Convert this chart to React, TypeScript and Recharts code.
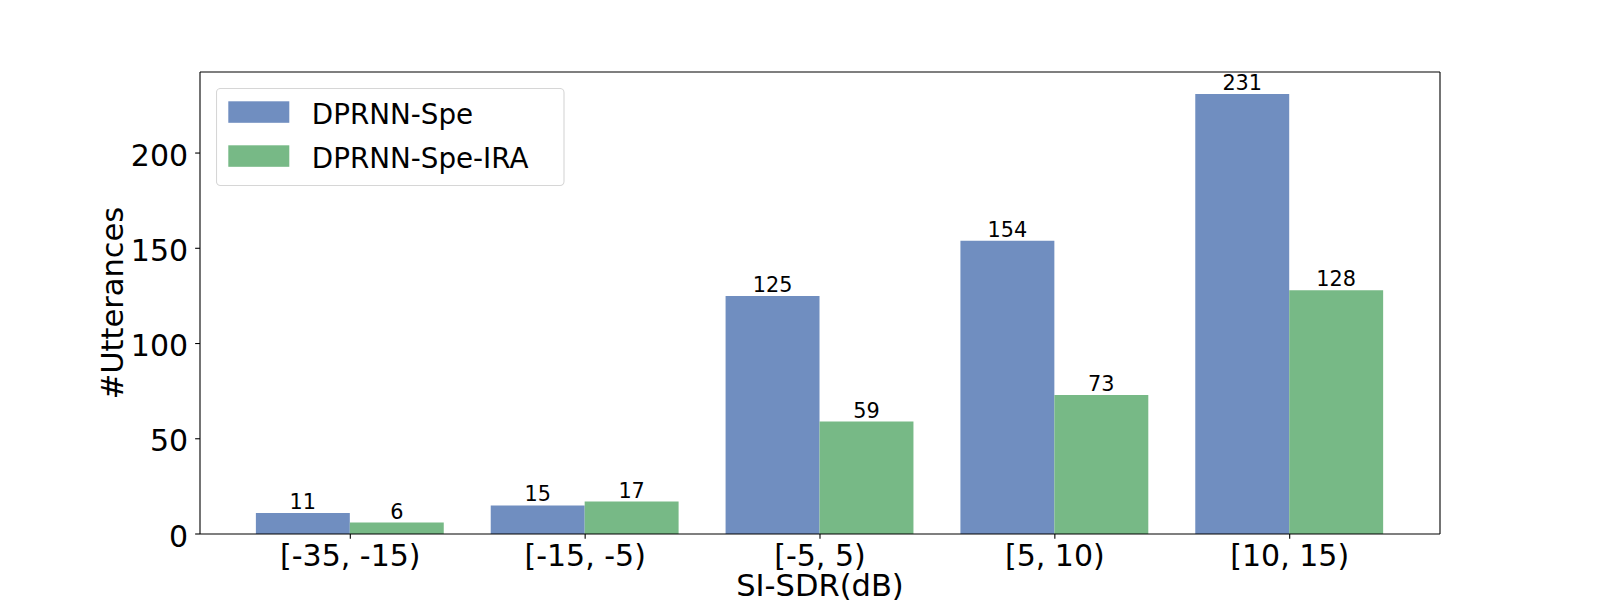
import React from 'react';
import { BarChart, Bar, XAxis, YAxis, Legend, LabelList } from 'recharts';

const categories = ['[-35, -15)', '[-15, -5)', '[-5, 5)', '[5, 10)', '[10, 15)'];
const speValues = [11, 15, 125, 154, 231];
const iraValues = [6, 17, 59, 73, 128];
const yTicks = [0, 50, 100, 150, 200];
const seriesNames = ['DPRNN-Spe', 'DPRNN-Spe-IRA'];
const seriesColors = ['#708ec0', '#77b986'];

const data = categories.map((c, i) => ({ cat: c, spe: speValues[i], ira: iraValues[i] }));

const FONT = 'DejaVu Sans';
const TICK_FS = 30;
const AXLABEL_FS = 30.5;
const LEGEND_FS = 27.78;
const LABEL_FS = 20.8;

const LegendBox = () => (
  <svg width={350} height={99} style={{ display: 'block' }}>
    <rect x={0.5} y={0.5} width={347.5} height={97} rx={4} ry={4} fill="#ffffff" fillOpacity={0.8} stroke="#d6d6d6" strokeWidth={1.1} />
    {seriesNames.map((n, i) => (
      <g key={n}>
        <rect x={12.3} y={13.3 + i * 44} width={61} height={21.5} fill={seriesColors[i]} />
        <text x={95.8} y={35.6 + i * 44} fontFamily={FONT} fontSize={LEGEND_FS} fill="#000">{n}</text>
      </g>
    ))}
  </svg>
);

const YLabel = (props: any) => {
  const vb = props.viewBox || { x: 0, y: 72, width: 200, height: 462 };
  const cx = vb.x + vb.width - 77;
  const cy = vb.y + vb.height / 2;
  return (
    <text x={cx} y={cy} transform={`rotate(-90, ${cx}, ${cy})`} textAnchor="middle" fontFamily={FONT} fontSize={AXLABEL_FS} fill="#000">
      #Utterances
    </text>
  );
};

const XLabel = (props: any) => {
  const vb = props.viewBox || { x: 200, y: 534, width: 1240, height: 66 };
  const cx = vb.x + vb.width / 2;
  const cy = vb.y + 61.5;
  return (
    <text x={cx} y={cy} textAnchor="middle" fontFamily={FONT} fontSize={AXLABEL_FS} fill="#000">
      SI-SDR(dB)
    </text>
  );
};

export default function App() {
  return (
    <div style={{ position: 'absolute', left: 0, top: 0, width: 1600, height: 600, background: '#fff', fontFamily: FONT }}>
      <BarChart
        width={1600}
        height={600}
        data={data}
        margin={{ top: 71, right: 159, bottom: 0, left: 0 }}
        barGap={0}
        barSize={93.94}
      >
        <XAxis
          dataKey="cat"
          xAxisId={0}
          height={66}
          padding={{ left: 32.88, right: 32.88 }}
          axisLine={{ stroke: '#000', strokeWidth: 1.1 }}
          tickLine={{ stroke: '#000', strokeWidth: 1.1 }}
          tickSize={4.86}
          tickMargin={6}
          tick={{ fontSize: TICK_FS, fill: '#000', fontFamily: FONT }}
          interval={0}
          label={<XLabel />}
        />
        <XAxis
          dataKey="cat"
          xAxisId="top"
          orientation="top"
          height={1}
          tick={false}
          tickLine={false}
          axisLine={{ stroke: '#000', strokeWidth: 1.1 }}
        />
        <YAxis
          yAxisId={0}
          width={200}
          domain={[0, 242.55]}
          ticks={yTicks}
          allowDataOverflow
          axisLine={{ stroke: '#000', strokeWidth: 1.1 }}
          tickLine={{ stroke: '#000', strokeWidth: 1.1 }}
          tickSize={4.86}
          tickMargin={7}
          tick={{ fontSize: TICK_FS, fill: '#000', fontFamily: FONT, dy: 2 }}
          label={<YLabel />}
        />
        <YAxis
          yAxisId="right"
          orientation="right"
          width={1}
          domain={[0, 242.55]}
          tick={false}
          tickLine={false}
          axisLine={{ stroke: '#000', strokeWidth: 1.1 }}
        />
        <Legend
          layout="vertical"
          align="center"
          verticalAlign="middle"
          wrapperStyle={{ left: 215.7, top: 87.7, width: 350, height: 99 }}
          content={() => <LegendBox />}
        />
        <Bar dataKey="spe" name={seriesNames[0]} fill={seriesColors[0]} isAnimationActive={false} xAxisId={0} yAxisId={0}>
          <LabelList dataKey="spe" position="top" offset={4} fill="#000" fontSize={LABEL_FS} fontFamily={FONT} />
        </Bar>
        <Bar dataKey="ira" name={seriesNames[1]} fill={seriesColors[1]} isAnimationActive={false} xAxisId={0} yAxisId={0}>
          <LabelList dataKey="ira" position="top" offset={4} fill="#000" fontSize={LABEL_FS} fontFamily={FONT} />
        </Bar>
      </BarChart>
    </div>
  );
}
